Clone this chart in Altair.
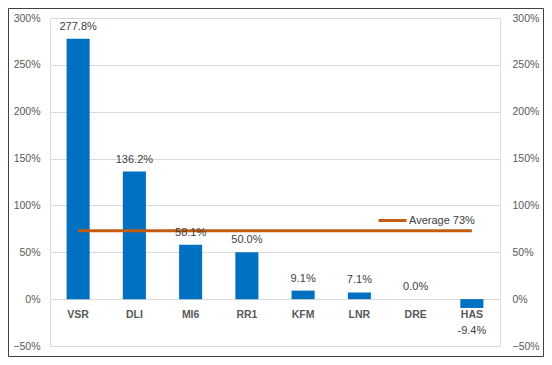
import altair as alt
import pandas as pd

cats = ["VSR", "DLI", "MI6", "RR1", "KFM", "LNR", "DRE", "HAS"]
vals = [2.778, 1.362, 0.581, 0.500, 0.091, 0.071, 0.0, -0.094]
avg_value = 0.73
avg_name = "Average 73%"
tick_vals = [-0.5, 0, 0.5, 1.0, 1.5, 2.0, 2.5, 3.0]

df = pd.DataFrame({"cat": cats, "val": vals})
df["label"] = [f"{v * 100:.1f}%" for v in vals]
avg_df = pd.DataFrame({"start": [cats[0]], "end": [cats[-1]], "avg": [avg_value], "series": [avg_name]})

FONT = "Liberation Sans"
xscale = alt.Scale(domain=cats, paddingInner=0.59, paddingOuter=0.295)
yscale = alt.Scale(domain=[-0.5, 3.0], nice=False, zero=False)

x = alt.X("cat:N", scale=xscale, axis=None)

left_axis = alt.Axis(values=tick_vals, format=".0%", grid=True, gridColor="#d9d9d9",
                     domain=False, ticks=False, labelPadding=10, labelFontSize=10.5,
                     labelColor="#595959", labelFont=FONT, title=None)
right_axis = alt.Axis(values=tick_vals, format=".0%", grid=False, orient="right",
                      domain=False, ticks=False, labelPadding=12, labelFontSize=10.5,
                      labelColor="#595959", labelFont=FONT, title=None)

base = alt.Chart(df)
bars = base.mark_bar(color="#0070C0").encode(
    x=x, y=alt.Y("val:Q", scale=yscale, axis=left_axis))
pos_lab = base.mark_text(dy=-12, baseline="middle", fontSize=11, color="#404040", font=FONT).encode(
    x=x, y=alt.Y("val:Q", scale=yscale), text="label:N").transform_filter("datum.val >= 0")
neg_lab = base.mark_text(dy=23, baseline="middle", fontSize=11, color="#404040", font=FONT).encode(
    x=x, y=alt.Y("val:Q", scale=yscale), text="label:N").transform_filter("datum.val < 0")
cat_lab = base.mark_text(dy=16, baseline="middle", fontSize=10.5, fontWeight="bold",
                         color="#595959", font=FONT).encode(
    x=x, y=alt.datum(0), text="cat:N")
border = alt.Chart(pd.DataFrame({"a": [0]})).mark_rect(
    fillOpacity=0, stroke="#404040", strokeWidth=1).encode(
    x=alt.value(-41.5), x2=alt.value(493.5), y=alt.value(-9.5), y2=alt.value(338.5))

group_a = alt.layer(bars, border)

rule = alt.Chart(avg_df).mark_rule(strokeWidth=3).encode(
    x=alt.X("start:N", scale=xscale, axis=None),
    x2="end:N",
    y=alt.Y("avg:Q", scale=yscale, axis=right_axis),
    color=alt.Color("series:N", scale=alt.Scale(range=["#C55A11"]),
                    legend=alt.Legend(orient="none", legendX=327, legendY=187, title=None,
                                      symbolType="stroke", symbolStrokeWidth=3, symbolSize=784,
                                      labelFontSize=11, labelColor="#404040", labelFont=FONT,
                                      padding=0, labelOffset=1)))

group_b = alt.layer(rule, pos_lab, neg_lab, cat_lab)

chart = alt.layer(group_a, group_b).resolve_scale(y="independent").properties(
    width=450, height=328,
    padding={"left": 42, "top": 10, "right": 44, "bottom": 11},
    autosize="none",
).configure_view(stroke=None).configure(font=FONT)

chart.save("out.html", embed_options={"renderer": "svg", "actions": False})
